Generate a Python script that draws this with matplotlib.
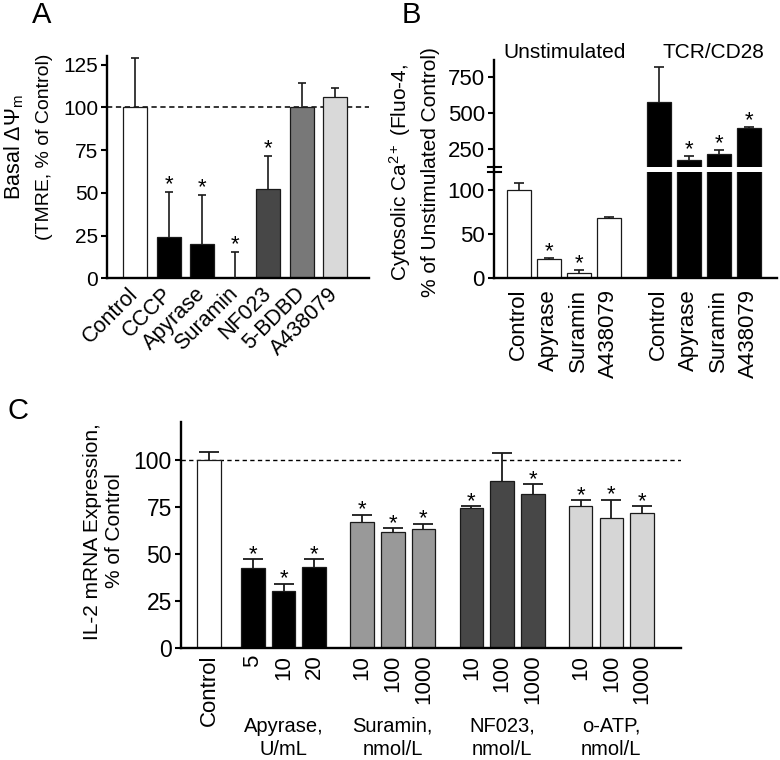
import numpy as np
import matplotlib
matplotlib.use('Agg')
import matplotlib.pyplot as plt
from matplotlib.lines import Line2D

plt.rcParams['font.family'] = ['Liberation Sans', 'DejaVu Sans']
plt.rcParams['mathtext.fontset'] = 'custom'
plt.rcParams['mathtext.rm'] = 'Liberation Sans'
plt.rcParams['mathtext.it'] = 'Liberation Sans:italic'
plt.rcParams['mathtext.bf'] = 'Liberation Sans:bold'
plt.rcParams['lines.scale_dashes'] = False

# ---------------- data ----------------
# Panel A
a_labels = ['Control', 'CCCP', 'Apyrase', 'Suramin', 'NF023', '5-BDBD', 'A438079']
a_values = [100, 24.0, 20.1, 0.0, 52.2, 100, 106.2]
a_upper = [128.7, 50.6, 48.7, 15.6, 71.7, 114.4, 111.1]
a_sig = [False, True, True, True, True, False, False]
a_colors = ['white', 'black', 'black', 'white', '#474747', '#787878', '#d9d9d9']

# Panel B
b_labels = ['Control', 'Apyrase', 'Suramin', 'A438079']
b_unstim = [100, 21.0, 5.0, 67.7]
b_unstim_upper = [107.6, 22.1, 8.8, 69.6]
b_unstim_sig = [False, True, True, False]
b_tcr = [578, 176, 216, 395]
b_tcr_upper = [815, 206, 245, 406]
b_tcr_sig = [False, True, True, True]
b_group_names = ['Unstimulated', 'TCR/CD28']

# Panel C
c_control = 100.0
c_control_upper = 104.4
c_groups = ['Apyrase,\nU/mL', 'Suramin,\nnmol/L', 'NF023,\nnmol/L', 'o-ATP,\nnmol/L']
c_doses = [['5', '10', '20'], ['10', '100', '1000'], ['10', '100', '1000'], ['10', '100', '1000']]
c_values = [[42.4, 30.3, 42.9], [67.1, 61.6, 63.2], [74.7, 89.1, 82.0], [75.6, 69.0, 72.0]]
c_upper = [[47.2, 34.2, 47.2], [71.0, 63.7, 66.2], [75.6, 104.1, 87.2], [78.6, 79.0, 75.6]]
c_sig = [[True, True, True], [True, True, True], [True, False, True], [True, True, True]]
c_colors = ['black', '#999999', '#474747', '#d6d6d6']

# ---------------- layout helpers ----------------
W, H = 780, 760
fig = plt.figure(figsize=(W / 100, H / 100), dpi=100)


def rect(l, t, r, b):
    return [l / W, 1 - b / H, (r - l) / W, (b - t) / H]


def fx(x):
    return x / W


def fy(y):
    return 1 - y / H


EDGE = '#1a1a1a'
SPINE_LW = 1.7


def style(ax, fs=15, xfs=15):
    for s in ['top', 'right']:
        ax.spines[s].set_visible(False)
    for s in ['left', 'bottom']:
        ax.spines[s].set_linewidth(SPINE_LW)
    ax.tick_params(axis='y', direction='out', length=4.5, width=1.5, labelsize=fs, pad=2)
    ax.tick_params(axis='x', length=0, labelsize=xfs)


def errs(ax, x, vals, ups, cap, lw=1.2):
    ax.vlines(x, vals, ups, color=EDGE, lw=lw, zorder=3)
    ax.plot(x, ups, ls='none', marker='_', ms=cap, mew=lw, color=EDGE, zorder=3)


def stars(ax, x, ups, sig, off=1.0, fs=16):
    for xi, u, s in zip(x, ups, sig):
        if s:
            ax.annotate('*', (xi, u), xytext=(0, off), textcoords='offset points',
                        ha='center', va='baseline', fontsize=fs)


# ---------------- Panel A ----------------
axA = fig.add_axes(rect(107.3, 55.7, 369.3, 278.3))
style(axA, fs=15, xfs=15.5)
xa = np.arange(len(a_labels))
axA.bar(xa, a_values, width=0.72, color=a_colors, edgecolor=EDGE, linewidth=0.9, zorder=2)
errs(axA, xa, a_values, a_upper, cap=5.8)
stars(axA, xa, a_upper, a_sig, off=1.0)
axA.axhline(100, color='black', lw=1.1, ls=(0, (3.8, 2.6)), zorder=1)
axA.set_xlim(-0.84, 7.03)
axA.set_ylim(0, 130.2)
axA.set_yticks([0, 25, 50, 75, 100, 125])
axA.set_xticks(xa)
axA.set_xticklabels(a_labels, rotation=45, ha='right', va='center', rotation_mode='anchor')
axA.tick_params(axis='x', pad=9)

fig.text(fx(14), fy(147), 'Basal ΔΨ$_{\\mathrm{m}}$', rotation=90, ha='center', va='center', fontsize=15.5)
fig.text(fx(45), fy(147), '(TMRE, % of Control)', rotation=90, ha='center', va='center', fontsize=14)

# ---------------- Panel B ----------------
xb = np.concatenate([np.arange(4), np.arange(4) + 4.67])
axBl = fig.add_axes(rect(494, 171.7, 776.7, 277.7))
axBu = fig.add_axes(rect(494, 60, 776.7, 167.3))
style(axBl, fs=16, xfs=16)
style(axBu, fs=16, xfs=16)
axBu.spines['bottom'].set_visible(False)
axBu.set_xticks([])

# lower segment
axBl.bar(xb[:4], b_unstim, width=0.8, color='white', edgecolor=EDGE, linewidth=0.9, zorder=2)
axBl.bar(xb[4:], b_tcr, width=0.8, color='black', edgecolor=EDGE, linewidth=0.9, zorder=2)
errs(axBl, xb[:4], b_unstim, b_unstim_upper, cap=6.5)
stars(axBl, xb[:4], b_unstim_upper, b_unstim_sig, off=0.5)
axBl.set_ylim(0, 120.9)
axBl.set_yticks([0, 50, 100])
axBl.set_xlim(-0.82, 8.6)
axBl.set_xticks(xb)
axBl.set_xticklabels(b_labels + b_labels, rotation=90, ha='center', va='top')
axBl.tick_params(axis='x', pad=8)

# upper segment
axBu.bar(xb[4:], b_tcr, width=0.8, color='black', edgecolor=EDGE, linewidth=0.9, zorder=2)
errs(axBu, xb[4:], b_tcr, b_tcr_upper, cap=6.5)
stars(axBu, xb[4:], b_tcr_upper, b_tcr_sig, off=0.5)
axBu.set_ylim(126, 865)
axBu.set_yticks([250, 500, 750])
axBu.set_xlim(-0.82, 8.6)

# axis break marks
for yy in (167.3, 171.7):
    fig.add_artist(Line2D([fx(488), fx(501)], [fy(yy), fy(yy)], color='black', lw=1.5))
fig.add_artist(Line2D([fx(494), fx(494)], [fy(167.3), fy(171.7)], color='black', lw=SPINE_LW))

fig.text(fx(565), fy(52), b_group_names[0], ha='center', va='center', fontsize=15)
fig.text(fx(713), fy(52), b_group_names[1], ha='center', va='center', fontsize=15)

fig.text(fx(400), fy(172), 'Cytosolic Ca$^{\\mathrm{2+}}$ (Fluo-4,', rotation=90, ha='center', va='center', fontsize=15)
fig.text(fx(431), fy(172), '% of Unstimulated Control)', rotation=90, ha='center', va='center', fontsize=15)

# ---------------- Panel C ----------------
axC = fig.add_axes(rect(181, 421.7, 680.7, 647.7))
style(axC, fs=16.5, xfs=16)
bw = 0.77
axC.bar([0], [c_control], width=bw, color='white', edgecolor=EDGE, linewidth=0.9, zorder=2)
errs(axC, [0], [c_control], [c_control_upper], cap=14, lw=1.3)
tick_pos = [0]
tick_lab = ['Control']
group_centers = []
for g in range(len(c_groups)):
    xs = 1.42 + g * 3.56 + np.arange(3)
    axC.bar(xs, c_values[g], width=bw, color=c_colors[g], edgecolor=EDGE, linewidth=0.9, zorder=2)
    errs(axC, xs, c_values[g], c_upper[g], cap=14, lw=1.3)
    stars(axC, xs, c_upper[g], c_sig[g], off=-0.5)
    tick_pos += list(xs)
    tick_lab += c_doses[g]
    group_centers.append(xs.mean())
axC.axhline(100, color='black', lw=1.0, ls=(0, (3.1, 2.4)), zorder=1)
axC.set_xlim(-0.92, 15.36)
axC.set_ylim(0, 120.6)
axC.set_yticks([0, 25, 50, 75, 100])
axC.set_xticks(tick_pos)
axC.set_xticklabels(tick_lab, rotation=90, ha='center', va='top')
axC.tick_params(axis='x', pad=5)
for gc, name in zip(group_centers, c_groups):
    axC.annotate(name, (gc, 0), xycoords=('data', 'axes fraction'), xytext=(0, -65),
                 textcoords='offset points', ha='center', va='center', fontsize=14.5, linespacing=1.3)

fig.text(fx(93), fy(532), 'IL-2 mRNA Expression,', rotation=90, ha='center', va='center', fontsize=15)
fig.text(fx(115), fy(531), '% of Control', rotation=90, ha='center', va='center', fontsize=15)

# panel letters
fig.text(fx(42), fy(15), 'A', ha='center', va='center', fontsize=21)
fig.text(fx(411), fy(15), 'B', ha='center', va='center', fontsize=21)
fig.text(fx(18), fy(411), 'C', ha='center', va='center', fontsize=21)

fig.savefig('out.png', dpi=100)
